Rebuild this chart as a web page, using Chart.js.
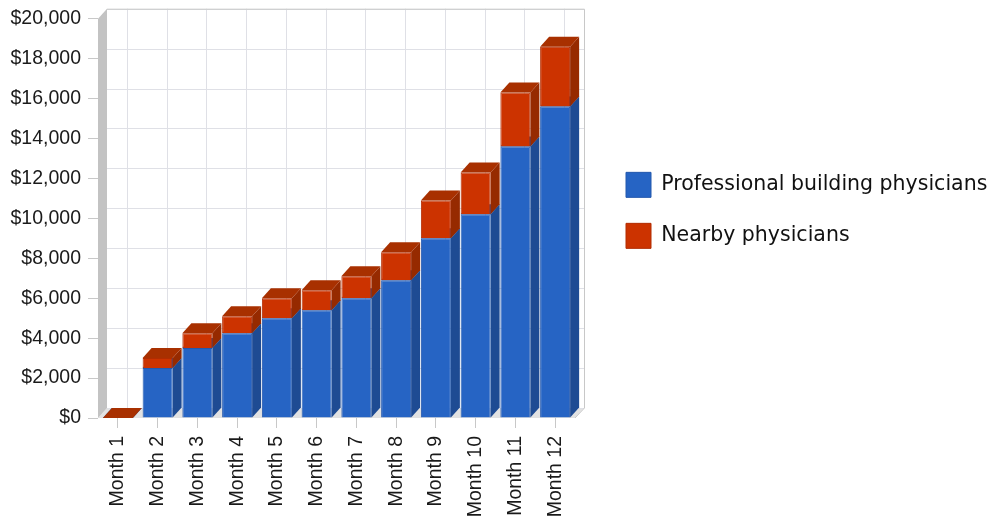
<!DOCTYPE html>
<html>
<head>
<meta charset="utf-8">
<script src="https://cdn.jsdelivr.net/npm/chart.js@4/dist/chart.umd.min.js"></script>
<style>
	html, body { margin: 0; padding: 0; background: #fff; }
	#wrap { width: 1000px; height: 520px; }
</style>
</head>
<body>
<div id="wrap"><canvas id="salesChart" width="1000" height="520"></canvas></div>
<script>
var months = ['Month 1', 'Month 2', 'Month 3', 'Month 4', 'Month 5', 'Month 6',
	'Month 7', 'Month 8', 'Month 9', 'Month 10', 'Month 11', 'Month 12'];
var professional = [0, 2500, 3500, 4250, 5000, 5400, 6000, 6900, 9000, 10200, 13600, 15600];
var nearby = [0, 500, 750, 850, 1000, 1000, 1100, 1400, 1900, 2100, 2700, 3000];
var seriesNames = ['Professional building physicians', 'Nearby physicians'];

// colours for the 3d faces: front, side, top
var faces = [
	{ front: '#2664c4', edge: '#2358ad', side: '#1e4b93', top: '#1f55a8' },
	{ front: '#cc3300', edge: '#b22c00', side: '#962a00', top: '#a83000' }
];
var depth = { x: 9, y: 10 };

function poly(ctx, pts, fill) {
	ctx.beginPath();
	ctx.moveTo(pts[0][0], pts[0][1]);
	for (var i = 1; i < pts.length; i++) ctx.lineTo(pts[i][0], pts[i][1]);
	ctx.closePath();
	ctx.fillStyle = fill;
	ctx.fill();
}

// back wall, floor, grid and the side/top faces of the bars
var box3d = {
	id: 'box3d',
	afterLayout: function (chart) {
		// let the legend text run to the canvas edge and sit a bit higher
		var lg = chart.legend;
		lg.right = chart.width;
		lg.width = lg.right - lg.left;
		lg.top = chart.chartArea.top - 16;
		lg.height = lg.bottom - lg.top;
	},
	beforeDatasetsDraw: function (chart) {
		var ctx = chart.ctx, a = chart.chartArea;
		var xs = chart.scales.x, ys = chart.scales.y;
		var dx = depth.x, dy = depth.y;
		ctx.save();

		// floor
		poly(ctx, [[a.left, a.bottom], [a.right, a.bottom], [a.right + dx, a.bottom - dy], [a.left + dx, a.bottom - dy]], '#e2e2e2');
		// left wall
		poly(ctx, [[a.left, a.bottom], [a.left + dx, a.bottom - dy], [a.left + dx, a.top - dy], [a.left, a.top]], '#c3c3c3');

		// grid on the back wall
		ctx.lineWidth = 1;
		ctx.strokeStyle = '#dfe0e6';
		ys.ticks.forEach(function (t) {
			var py = Math.round(ys.getPixelForValue(t.value) - dy) + 0.5;
			ctx.beginPath();
			ctx.moveTo(a.left + dx, py);
			ctx.lineTo(a.right + dx, py);
			ctx.stroke();
		});
		months.forEach(function (m, i) {
			var px = Math.round(xs.getPixelForValue(i) + dx) + 0.5;
			ctx.beginPath();
			ctx.moveTo(px, a.top - dy);
			ctx.lineTo(px, a.bottom - dy);
			ctx.stroke();
		});

		// frame of the back wall
		ctx.strokeStyle = '#c8c8c8';
		ctx.beginPath();
		ctx.moveTo(a.left + dx, a.top - dy + 0.5);
		ctx.lineTo(a.right + dx + 0.5, a.top - dy + 0.5);
		ctx.lineTo(a.right + dx + 0.5, a.bottom - dy);
		ctx.lineTo(a.right, a.bottom);
		ctx.stroke();

		// side and top faces, bottom segment first
		months.forEach(function (m, j) {
			chart.data.datasets.forEach(function (ds, i) {
				var el = chart.getDatasetMeta(i).data[j];
				if (!el) return;
				var l = el.x - el.width / 2, r = el.x + el.width / 2;
				var t = Math.min(el.y, el.base), b = Math.max(el.y, el.base);
				poly(ctx, [[r, t], [r + dx, t - dy], [r + dx, b - dy], [r, b]], faces[i].side);
				poly(ctx, [[l, t], [r, t], [r + dx, t - dy], [l + dx, t - dy]], faces[i].top);
			});
		});
		ctx.restore();
	}
};

var tickFont = { family: "'Liberation Sans', Arial, sans-serif", size: 19.5 };

var ctx = document.getElementById('salesChart').getContext('2d');
var salesChart = new Chart(ctx, {
	type: 'bar',
	data: {
		labels: months,
		datasets: [{
			label: seriesNames[0],
			data: professional,
			backgroundColor: faces[0].front,
			borderColor: faces[0].edge,
			borderWidth: 1
		}, {
			label: seriesNames[1],
			data: nearby,
			backgroundColor: faces[1].front,
			borderColor: faces[1].edge,
			borderWidth: 1
		}]
	},
	options: {
		responsive: false,
		animation: false,
		barPercentage: 0.755,
		categoryPercentage: 1,
		layout: { padding: { top: 18, right: 280, bottom: 0, left: 0 } },
		scales: {
			x: {
				stacked: true,
				grid: { offset: false, drawOnChartArea: false, tickLength: 10, tickColor: '#c8c8c8' },
				border: { display: false },
				ticks: { autoSkip: false, minRotation: 90, maxRotation: 90, padding: 8, color: '#1a1a1a', font: tickFont },
				afterFit: function (s) { s.height = 102; }
			},
			y: {
				stacked: true,
				min: 0,
				max: 20000,
				grid: { drawOnChartArea: false, tickLength: 10, tickColor: '#c8c8c8' },
				border: { display: false },
				ticks: {
					stepSize: 2000,
					padding: 7,
					color: '#1a1a1a',
					font: tickFont,
					callback: function (v) { return '$' + v.toLocaleString('en-US'); }
				},
				afterFit: function (s) { s.width = 98; }
			},
			// empty axis: keeps a gap between the plot and the legend
			gap: {
				type: 'linear',
				position: 'right',
				grid: { display: false },
				border: { display: false },
				ticks: { display: false },
				afterFit: function (s) { s.width = 25; }
			}
		},
		plugins: {
			legend: {
				position: 'right',
				fullSize: false,
				labels: {
					boxWidth: 25,
					boxHeight: 25,
					padding: 26,
					color: '#111',
					font: { family: "'DejaVu Sans', sans-serif", size: 20.5 }
				}
			},
			tooltip: { enabled: false }
		}
	},
	plugins: [box3d]
});
</script>
</body>
</html>
